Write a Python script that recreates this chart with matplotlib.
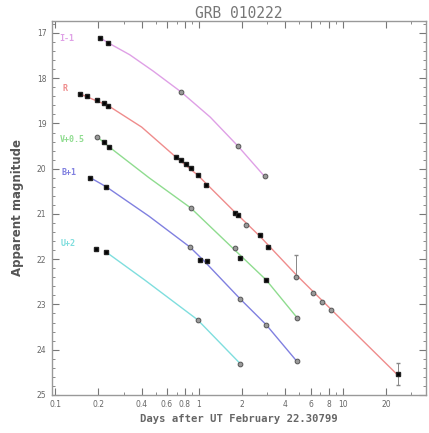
"""GRB 010222 optical afterglow light curves (multi-band, offset)"""

import matplotlib
matplotlib.use('Agg')
import numpy as np
import matplotlib.pyplot as plt
from matplotlib.ticker import FixedLocator, FixedFormatter, MultipleLocator

# --- data (days after burst, apparent magnitude incl. offset)
i_days = [0.206, 0.235, 0.75, 1.87, 2.9]
i_mag = [17.11, 17.22, 18.30, 19.50, 20.16]
i_solid = [True, True, False, False, False]
i_fit_days = [0.206, 0.235, 0.33, 0.48, 0.75, 1.2, 1.87, 2.9]
i_fit_mag = [17.11, 17.22, 17.48, 17.84, 18.30, 18.86, 19.50, 20.19]

r_days = [0.150, 0.167, 0.197, 0.220, 0.235, 0.69, 0.748, 0.81, 0.88, 0.98,
          1.12, 1.78, 1.87, 2.13, 2.67, 3.04, 4.77, 6.27, 7.14, 8.25, 24.3]
r_mag = [18.35, 18.39, 18.48, 18.55, 18.61, 19.74, 19.81, 19.90, 19.98, 20.14,
         20.36, 20.98, 21.02, 21.24, 21.46, 21.73, 22.39, 22.75, 22.94, 23.12, 24.54]
r_solid = [True, True, True, True, True, True, True, True, True, True,
           True, True, True, False, True, True, False, False, False, False, True]
r_err_lo = [0] * 16 + [0.48, 0, 0, 0, 0.25]
r_err_hi = [0] * 16 + [0.0, 0, 0, 0, 0.25]
r_fit_days = [0.15, 0.235, 0.4, 0.69, 0.98, 1.78, 2.67, 4.77, 8.25, 24.5]
r_fit_mag = [18.35, 18.61, 19.08, 19.74, 20.14, 20.96, 21.50, 22.35, 23.10, 24.58]

v_days = [0.197, 0.220, 0.238, 0.88, 1.78, 1.94, 2.94, 4.84]
v_mag = [19.30, 19.41, 19.52, 20.87, 21.75, 21.97, 22.46, 23.30]
v_solid = [False, True, True, False, False, True, True, False]
v_fit_days = [0.197, 0.238, 0.45, 0.88, 1.78, 2.94, 4.84]
v_fit_mag = [19.30, 19.52, 20.20, 20.87, 21.80, 22.46, 23.30]

b_days = [0.176, 0.227, 0.865, 1.02, 1.14, 1.94, 2.94, 4.84]
b_mag = [20.20, 20.40, 21.73, 22.02, 22.04, 22.88, 23.45, 24.25]
b_solid = [True, True, False, True, True, False, False, False]
b_fit_days = [0.176, 0.227, 0.45, 0.865, 1.08, 1.94, 2.94, 4.84]
b_fit_mag = [20.20, 20.40, 21.05, 21.73, 22.03, 22.88, 23.45, 24.27]

u_days = [0.193, 0.227, 0.98, 1.94]
u_mag = [21.77, 21.84, 23.34, 24.31]
u_solid = [True, True, False, False]
u_fit_days = [0.235, 0.42, 0.98, 1.94]
u_fit_mag = [21.88, 22.46, 23.34, 24.31]

band_labels = ['I-1', 'R', 'V+0.5', 'B+1', 'U+2']
band_colors = ['#dfa0e6', '#ef8c8c', '#8fdc8f', '#8080e0', '#7fdede']
label_pos = [(0.107, 17.12), (0.112, 18.22), (0.108, 19.35), (0.11, 20.08), (0.11, 21.65)]

xtick_vals = [0.1, 0.2, 0.4, 0.6, 0.8, 1, 2, 4, 6, 8, 10, 20]
xtick_text = ['0.1', '0.2', '0.4', '0.6', '0.8', '1', '2', '4', '6', '8', '10', '20']

grey = '#777777'

fig = plt.figure(figsize=(4.29, 4.33), dpi=100)
ax = fig.add_axes([0.121, 0.088, 0.872, 0.864])

bands = [
    (i_days, i_mag, i_solid, i_fit_days, i_fit_mag),
    (r_days, r_mag, r_solid, r_fit_days, r_fit_mag),
    (v_days, v_mag, v_solid, v_fit_days, v_fit_mag),
    (b_days, b_mag, b_solid, b_fit_days, b_fit_mag),
    (u_days, u_mag, u_solid, u_fit_days, u_fit_mag),
]

for (d, m, solid, fd, fm), col, lab, pos in zip(bands, band_colors, band_labels, label_pos):
    ax.plot(fd, fm, '-', color=col, lw=1.0, zorder=2)
    d = np.array(d)
    m = np.array(m)
    s = np.array(solid)
    ax.plot(d[s], m[s], 's', ms=3.0, mfc='k', mec='#222222', zorder=4)
    ax.plot(d[~s], m[~s], 'o', ms=3.4, mfc='#9a9a9a', mec='#555555', mew=0.7, zorder=4)
    ax.text(pos[0], pos[1], lab, color=col, fontsize=6, fontweight='bold',
            family='DejaVu Sans Mono', va='center', ha='left')

# error bars on the R band
r_err = np.array([r_err_lo, r_err_hi])
has_err = (r_err.sum(axis=0) > 0)
ax.errorbar(np.array(r_days)[has_err], np.array(r_mag)[has_err],
            yerr=r_err[:, has_err], fmt='none', ecolor='#888888', elinewidth=0.7,
            capsize=1.5, zorder=3)

ax.set_xscale('log')
ax.set_xlim(0.095, 38)
ax.set_ylim(25, 16.73)

ax.xaxis.set_major_locator(FixedLocator(xtick_vals))
ax.xaxis.set_major_formatter(FixedFormatter(xtick_text))
ax.xaxis.set_minor_locator(matplotlib.ticker.LogLocator(base=10, subs=np.arange(2, 10)))
ax.xaxis.set_minor_formatter(matplotlib.ticker.NullFormatter())
ax.yaxis.set_major_locator(MultipleLocator(1))
ax.yaxis.set_minor_locator(MultipleLocator(0.2))

ax.tick_params(which='both', direction='in', top=True, right=True,
               colors=grey, labelsize=5.5, labelcolor='#666666', pad=4)
ax.tick_params(which='major', length=5, width=0.8)
ax.tick_params(which='minor', length=2.5, width=0.6)
for sp in ax.spines.values():
    sp.set_color('#999999')
    sp.set_linewidth(1.0)

ax.set_title('GRB 010222', family='DejaVu Sans Mono', fontsize=10.5,
             color='#777777', pad=1.5)
ax.set_xlabel('Days after UT February 22.30799', family='DejaVu Sans Mono',
              fontweight='bold', fontsize=7.6, color='#666666', labelpad=3)
ax.set_ylabel('Apparent magnitude', fontweight='bold', fontsize=8.5,
              color='#555555', labelpad=9)

plt.savefig('out.png', dpi=100)
